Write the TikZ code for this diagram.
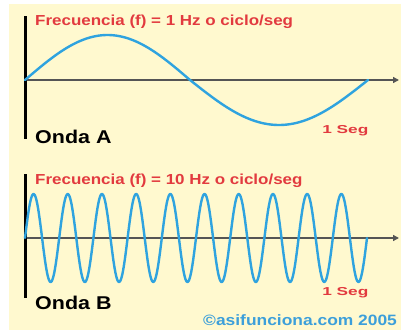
\documentclass[tikz,border=0pt]{standalone}
\usepackage{fontspec}
\setmainfont{Liberation Sans}
\usetikzlibrary{arrows.meta}
\definecolor{panel}{HTML}{FFF9CF}
\definecolor{wave}{HTML}{2FA3DF}
\definecolor{lbl}{HTML}{E23A3F}
\definecolor{copy}{HTML}{3C9FDA}
\definecolor{axis}{HTML}{555555}
\tikzset{
  wavestyle/.style={draw=wave, line width=2.4pt, line join=round, line cap=round},
  axisstyle/.style={draw=axis, line width=1.4pt, -{Triangle[length=6pt,width=6pt]}},
  barstyle/.style={draw=black, line width=3pt},
  freqlbl/.style={text=lbl, font=\bfseries\fontsize{14.5}{15}\selectfont, anchor=west, inner sep=0pt, xscale=1.17, transform shape},
  ondalbl/.style={text=black, font=\bfseries\fontsize{18.5}{20}\selectfont, anchor=west, inner sep=0pt, xscale=1.16, transform shape},
  seglbl/.style={text=lbl, font=\bfseries\fontsize{11.5}{12}\selectfont, anchor=west, inner sep=0pt, xscale=1.5, transform shape},
  copylbl/.style={text=copy, font=\bfseries\fontsize{15}{16}\selectfont, anchor=west, inner sep=0pt, xscale=1.16, transform shape}
}
\begin{document}
\begin{tikzpicture}[x=1pt,y=-1pt]
\useasboundingbox (0,0) rectangle (401,332);
\fill[white] (0,0) rectangle (401,332);
\fill[panel] (9,4) rectangle (401,330);
% top graph
\coordinate (a0) at (25,80);
\coordinate (aEnd) at (399,80);
\coordinate (aTop) at (25,16);
\coordinate (aBot) at (25,139);
\draw[axisstyle] (a0) -- (aEnd);
\draw[barstyle] (aTop) -- (aBot);
\draw[wavestyle] plot[domain=0:165, samples=80, smooth] ({25+\x}, {80-45*sin(\x/165*180)})
  -- plot[domain=0:178, samples=80, smooth] ({190+\x}, {80+45*sin(\x/178*180)});
\node[freqlbl] (fa) at (35,22) {Frecuencia (f) = 1 Hz o ciclo/seg};
\node[ondalbl] (oa) at (35,137) {Onda A};
\node[seglbl] (sa) at (322,131) {1 Seg};
% bottom graph
\coordinate (b0) at (25,238);
\coordinate (bEnd) at (399,238);
\coordinate (bTop) at (25,174);
\coordinate (bBot) at (25,298);
\draw[axisstyle] (b0) -- (bEnd);
\draw[barstyle] (bTop) -- (bBot);
\draw[wavestyle] plot[domain=0:342, samples=500, smooth] ({25+\x}, {238-44*sin(\x/34.2*360)});
\node[freqlbl] (fb) at (35,181) {Frecuencia (f) = 10 Hz o ciclo/seg};
\node[ondalbl] (ob) at (35,303) {Onda B};
\node[seglbl] (sb) at (322,293) {1 Seg};
\node[copylbl] (cp) at (203,320) {©asifunciona.com 2005};
\end{tikzpicture}
\end{document}
